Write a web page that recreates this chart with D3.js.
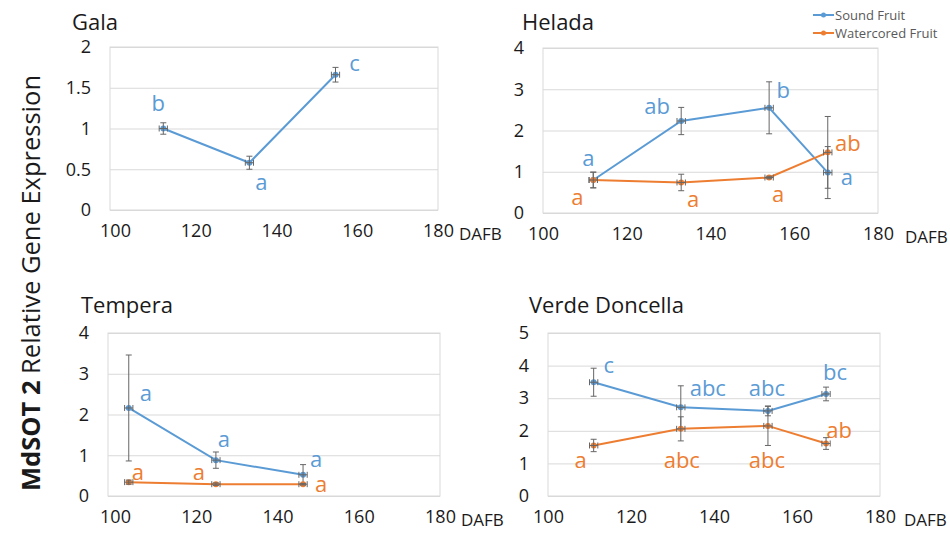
<!DOCTYPE html>
<html>
<head>
<meta charset="utf-8">
<script src="https://cdn.jsdelivr.net/npm/d3@7/dist/d3.min.js"></script>
<style>
  html, body { margin: 0; padding: 0; background: #fff; }
  svg { display: block; font-family: "Open Sans", "DejaVu Sans", sans-serif; }
</style>
</head>
<body>
<svg id="chart" width="950" height="534"></svg>
<script>
// ---- data: MdSOT2 relative expression by days after full bloom (DAFB) ----
const seriesNames = ["Sound Fruit", "Watercored Fruit"];
const dafbTicks = [100, 120, 140, 160, 180];
const dayError = 1;

const galaDays = [113, 134, 155];
const galaSound = [1.00, 0.58, 1.66];
const galaSoundErr = [0.07, 0.08, 0.09];
const galaSoundLetters = ["b", "a", "c"];

const heladaDays = [112, 133, 154, 168];
const heladaSound = [0.80, 2.23, 2.55, 0.98];
const heladaSoundErr = [0.19, 0.33, 0.63, 0.63];
const heladaWater = [0.80, 0.74, 0.86, 1.47];
const heladaWaterErr = [0.19, 0.20, 0.03, 0.87];
const heladaSoundLetters = ["a", "ab", "b", "a"];
const heladaWaterLetters = ["a", "a", "a", "ab"];

const temperaDays = [105, 126, 147];
const temperaSound = [2.16, 0.88, 0.52];
const temperaSoundErr = [1.30, 0.20, 0.25];
const temperaWater = [0.34, 0.29, 0.29];
const temperaWaterErr = [0.05, 0.03, 0.02];
const temperaSoundLetters = ["a", "a", "a"];
const temperaWaterLetters = ["a", "a", "a"];

const verdeDays = [111, 132, 153, 167];
const verdeSound = [3.49, 2.72, 2.61, 3.13];
const verdeSoundErr = [0.43, 0.66, 0.15, 0.21];
const verdeWater = [1.55, 2.06, 2.15, 1.61];
const verdeWaterErr = [0.19, 0.37, 0.60, 0.18];
const verdeSoundLetters = ["c", "abc", "abc", "bc"];
const verdeWaterLetters = ["a", "abc", "abc", "ab"];

// ---- appearance ----
const colors = ["#5B9BD5", "#ED7D31"];
const gridColor = "#d9d9d9";
const errColor = "#666666";
const textColor = "#1a1a1a";

// placement of the significance letters relative to each point (px)
const galaSoundLabelPos = [[-5, -25], [12, 20], [19, -11]];
const heladaSoundLabelPos = [[-5, -22], [-24, -15], [14, -18], [19, 5]];
const heladaWaterLabelPos = [[-16, 17], [12, 17], [9, 17], [20, -9]];
const temperaSoundLabelPos = [[17, -15], [8, -21], [13, -16]];
const temperaWaterLabelPos = [[9, -10], [-17, -12], [18, 0]];
const verdeSoundLabelPos = [[15, -17], [27, -19], [-1, -23], [9, -22]];
const verdeWaterLabelPos = [[-13, 15], [1, 31], [-1, 34], [13, -13]];

const panels = [
  { title: "Gala", tx: 72, ty: 30, x0: 110, x1: 438, y0: 47, y1: 210,
    yMax: 2, yStep: 0.5, fmt: d3.format("~g"), labelInset: 5, dafbGap: 21,
    days: galaDays,
    series: [
      { values: galaSound, err: galaSoundErr, letters: galaSoundLetters, pos: galaSoundLabelPos }
    ] },
  { title: "Helada", tx: 522, ty: 30, x0: 543, x1: 878, y0: 48, y1: 213,
    yMax: 4, yStep: 1, fmt: d3.format("d"), labelInset: 0, dafbGap: 27,
    days: heladaDays,
    series: [
      { values: heladaSound, err: heladaSoundErr, letters: heladaSoundLetters, pos: heladaSoundLabelPos },
      { values: heladaWater, err: heladaWaterErr, letters: heladaWaterLetters, pos: heladaWaterLabelPos }
    ] },
  { title: "Tempera", tx: 81, ty: 313, x0: 108, x1: 440, y0: 333, y1: 496,
    yMax: 4, yStep: 1, fmt: d3.format("d"), labelInset: 7, dafbGap: 21,
    days: temperaDays,
    series: [
      { values: temperaSound, err: temperaSoundErr, letters: temperaSoundLetters, pos: temperaSoundLabelPos },
      { values: temperaWater, err: temperaWaterErr, letters: temperaWaterLetters, pos: temperaWaterLabelPos }
    ] },
  { title: "Verde Doncella", tx: 529, ty: 313, x0: 548, x1: 880, y0: 333, y1: 496,
    yMax: 5, yStep: 1, fmt: d3.format("d"), labelInset: 0, dafbGap: 24,
    days: verdeDays,
    series: [
      { values: verdeSound, err: verdeSoundErr, letters: verdeSoundLetters, pos: verdeSoundLabelPos },
      { values: verdeWater, err: verdeWaterErr, letters: verdeWaterLetters, pos: verdeWaterLabelPos }
    ] }
];

const svg = d3.select("#chart");

panels.forEach(p => {
  const x = d3.scaleLinear().domain([100, 180]).range([p.x0, p.x1]);
  // the category-label axis sits slightly inset from the plot frame on its left end
  const xLab = d3.scaleLinear().domain([100, 180]).range([p.x0 + p.labelInset, p.x1]);
  const y = d3.scaleLinear().domain([0, p.yMax]).range([p.y1, p.y0]);
  const yTicks = d3.range(0, p.yMax + p.yStep / 2, p.yStep);
  const g = svg.append("g");

  // title
  g.append("text").attr("x", p.tx).attr("y", p.ty)
    .attr("font-size", 22).attr("fill", textColor).text(p.title);

  // horizontal gridlines + y tick labels
  const yAxis = g.append("g").attr("transform", `translate(${p.x0},0)`)
    .call(d3.axisLeft(y).tickValues(yTicks).tickFormat(p.fmt)
      .tickSize(-(p.x1 - p.x0)).tickPadding(19));
  yAxis.select(".domain").remove();
  yAxis.selectAll(".tick line").attr("stroke", gridColor).attr("stroke-width", 1);
  yAxis.selectAll(".tick text").attr("font-size", 18).attr("fill", textColor)
    .attr("font-family", "Open Sans, sans-serif");

  // plot area frame
  g.append("rect").attr("x", p.x0).attr("y", p.y0)
    .attr("width", p.x1 - p.x0).attr("height", p.y1 - p.y0)
    .attr("fill", "none").attr("stroke", gridColor).attr("stroke-width", 1);

  // x tick labels
  const xAxis = g.append("g").attr("transform", `translate(0,${p.y1})`)
    .call(d3.axisBottom(xLab).tickValues(dafbTicks).tickFormat(d3.format("d"))
      .tickSize(0).tickPadding(14));
  xAxis.select(".domain").remove();
  xAxis.selectAll(".tick text").attr("font-size", 18).attr("fill", textColor)
    .attr("font-family", "Open Sans, sans-serif");

  g.append("text").attr("x", p.x1 + p.dafbGap).attr("y", p.y1 + 24)
    .attr("dy", "0.35em").attr("font-size", 17).attr("fill", textColor).text("DAFB");

  const line = d3.line().x((d, i) => x(p.days[i])).y(d => y(d));

  p.series.forEach((s, si) => {
    const c = colors[si];
    g.append("path").datum(s.values)
      .attr("d", line).attr("fill", "none")
      .attr("stroke", c).attr("stroke-width", 2);

    const pts = s.values.map((v, i) => ({ day: p.days[i], v, e: s.err[i] }));

    // markers
    g.selectAll(null).data(pts).enter().append("circle")
      .attr("cx", d => x(d.day)).attr("cy", d => y(d.v)).attr("r", 3)
      .attr("fill", c);

    // error bars (vertical = expression, horizontal = sampling day)
    const eb = g.append("g").attr("stroke", errColor).attr("stroke-width", 1);
    pts.forEach(d => {
      const cx = x(d.day), cy = y(d.v);
      const yt = y(d.v + d.e), yb = y(d.v - d.e);
      eb.append("line").attr("x1", cx).attr("x2", cx).attr("y1", yt).attr("y2", yb);
      eb.append("line").attr("x1", cx - 3).attr("x2", cx + 3).attr("y1", yt).attr("y2", yt);
      eb.append("line").attr("x1", cx - 3).attr("x2", cx + 3).attr("y1", yb).attr("y2", yb);
      const xl = x(d.day - dayError), xr = x(d.day + dayError);
      eb.append("line").attr("x1", xl).attr("x2", xr).attr("y1", cy).attr("y2", cy);
      eb.append("line").attr("x1", xl).attr("x2", xl).attr("y1", cy - 3).attr("y2", cy + 3);
      eb.append("line").attr("x1", xr).attr("x2", xr).attr("y1", cy - 3).attr("y2", cy + 3);
    });

    // significance letters
    g.selectAll(null).data(pts).enter().append("text")
      .attr("x", (d, i) => x(d.day) + s.pos[i][0])
      .attr("y", (d, i) => y(d.v) + s.pos[i][1])
      .attr("dy", "0.35em").attr("text-anchor", "middle")
      .attr("font-size", 22).attr("fill", c)
      .text((d, i) => s.letters[i]);
  });
});

// legend
const legend = svg.append("g");
seriesNames.forEach((name, i) => {
  const ly = 15 + i * 18;
  legend.append("line").attr("x1", 813).attr("x2", 834).attr("y1", ly).attr("y2", ly)
    .attr("stroke", colors[i]).attr("stroke-width", 2);
  legend.append("circle").attr("cx", 823.5).attr("cy", ly).attr("r", 2.5).attr("fill", colors[i]);
  legend.append("text").attr("x", 835).attr("y", ly).attr("dy", "0.35em")
    .attr("font-size", 13).attr("fill", "#595959").text(name);
});

// shared y-axis title
const yTitle = svg.append("text")
  .attr("transform", "translate(31,283) rotate(-90)")
  .attr("text-anchor", "middle").attr("dy", "0.35em")
  .attr("font-size", 25.5).attr("fill", textColor);
yTitle.append("tspan").attr("font-weight", "bold").text("MdSOT 2");
yTitle.append("tspan").text(" Relative Gene Expression");
</script>
</body>
</html>
